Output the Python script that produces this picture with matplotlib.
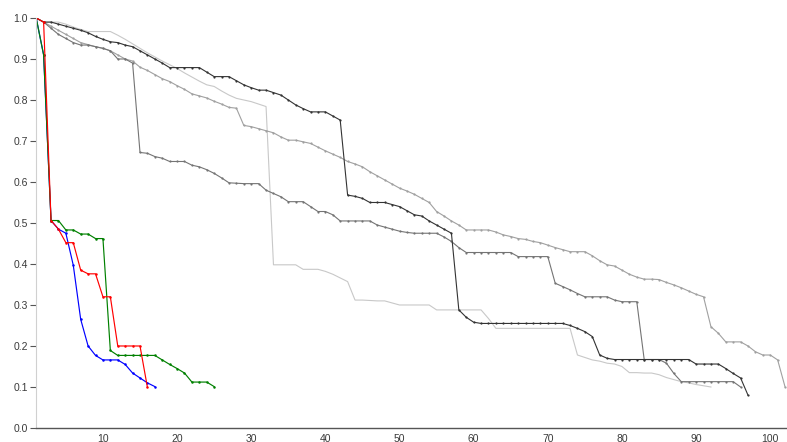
import numpy as np
import matplotlib
matplotlib.use('Agg')
import matplotlib.pyplot as plt

# short runs (coloured)
red_y = [1.0, 0.99, 0.506, 0.485, 0.452, 0.452, 0.385, 0.376, 0.376, 0.32, 0.32,
         0.20, 0.20, 0.20, 0.20, 0.099]
green_y = [1.0, 0.91, 0.506, 0.506, 0.483, 0.483, 0.473, 0.473, 0.462, 0.462, 0.189,
           0.177, 0.177, 0.177, 0.177, 0.177, 0.177, 0.166, 0.155, 0.145, 0.134,
           0.112, 0.112, 0.112, 0.101]
blue_y = [1.0, 0.91, 0.506, 0.485, 0.475, 0.397, 0.265, 0.20, 0.177, 0.166, 0.166,
          0.166, 0.155, 0.134, 0.122, 0.11, 0.101]

# long runs (greys)
dark_y = [1.0, 0.99, 0.99, 0.985, 0.98, 0.975, 0.97, 0.964, 0.955, 0.948,
          0.942, 0.94, 0.934, 0.93, 0.92, 0.91, 0.90, 0.89, 0.879, 0.879,
          0.879, 0.879, 0.879, 0.868, 0.857, 0.857, 0.857, 0.847, 0.837, 0.83,
          0.824, 0.824, 0.818, 0.812, 0.80, 0.788, 0.779, 0.771, 0.771, 0.771,
          0.761, 0.751, 0.568, 0.565, 0.56, 0.55, 0.55, 0.55, 0.545, 0.54,
          0.53, 0.52, 0.517, 0.505, 0.495, 0.485, 0.475, 0.288, 0.27, 0.258,
          0.255, 0.255, 0.255, 0.255, 0.255, 0.255, 0.255, 0.255, 0.255, 0.255,
          0.255, 0.255, 0.25, 0.243, 0.235, 0.223, 0.178, 0.17, 0.167, 0.167,
          0.167, 0.167, 0.167, 0.167, 0.167, 0.167, 0.167, 0.167, 0.167, 0.156,
          0.156, 0.156, 0.156, 0.145, 0.133, 0.122, 0.08]
mid_y = [1.0, 0.99, 0.975, 0.96, 0.95, 0.94, 0.934, 0.934, 0.93, 0.926,
         0.92, 0.90, 0.90, 0.89, 0.672, 0.67, 0.662, 0.658, 0.65, 0.65,
         0.65, 0.641, 0.637, 0.63, 0.621, 0.61, 0.598, 0.597, 0.596, 0.596,
         0.596, 0.58, 0.572, 0.564, 0.552, 0.552, 0.552, 0.54, 0.528, 0.528,
         0.52, 0.505, 0.505, 0.505, 0.505, 0.505, 0.495, 0.49, 0.485, 0.48,
         0.477, 0.475, 0.475, 0.475, 0.475, 0.466, 0.455, 0.44, 0.428, 0.428,
         0.428, 0.428, 0.428, 0.428, 0.428, 0.418, 0.418, 0.418, 0.418, 0.418,
         0.353, 0.345, 0.337, 0.328, 0.32, 0.32, 0.32, 0.32, 0.312, 0.308,
         0.308, 0.308, 0.167, 0.167, 0.167, 0.158, 0.133, 0.113, 0.113, 0.113,
         0.113, 0.113, 0.113, 0.113, 0.113, 0.10]
light_y = [1.0, 0.99, 0.98, 0.97, 0.96, 0.95, 0.94, 0.935, 0.93, 0.926,
           0.92, 0.91, 0.90, 0.895, 0.88, 0.872, 0.862, 0.852, 0.845, 0.835,
           0.826, 0.815, 0.81, 0.805, 0.797, 0.79, 0.782, 0.78, 0.738, 0.735,
           0.73, 0.725, 0.72, 0.71, 0.702, 0.702, 0.698, 0.694, 0.685, 0.676,
           0.668, 0.66, 0.65, 0.644, 0.637, 0.625, 0.615, 0.605, 0.595, 0.585,
           0.578, 0.57, 0.56, 0.55, 0.528, 0.517, 0.505, 0.495, 0.483, 0.483,
           0.483, 0.483, 0.478, 0.471, 0.467, 0.462, 0.46, 0.455, 0.452, 0.446,
           0.44, 0.435, 0.43, 0.43, 0.43, 0.42, 0.408, 0.398, 0.395, 0.385,
           0.375, 0.368, 0.363, 0.363, 0.362, 0.355, 0.349, 0.342, 0.334, 0.326,
           0.32, 0.247, 0.231, 0.21, 0.21, 0.21, 0.20, 0.186, 0.178, 0.178,
           0.166, 0.10]
pale_y = [1.0, 0.99, 0.99, 0.99, 0.985, 0.978, 0.972, 0.967, 0.967, 0.967,
          0.967, 0.958, 0.948, 0.937, 0.926, 0.915, 0.905, 0.895, 0.886, 0.877,
          0.866, 0.856, 0.846, 0.837, 0.833, 0.822, 0.812, 0.804, 0.80, 0.796,
          0.79, 0.784, 0.398, 0.398, 0.398, 0.398, 0.387, 0.387, 0.387, 0.382,
          0.375, 0.366, 0.357, 0.312, 0.312, 0.311, 0.31, 0.31, 0.305, 0.30,
          0.30, 0.30, 0.30, 0.30, 0.288, 0.288, 0.288, 0.288, 0.288, 0.288,
          0.288, 0.267, 0.243, 0.243, 0.243, 0.243, 0.243, 0.243, 0.243, 0.243,
          0.243, 0.243, 0.243, 0.178, 0.172, 0.166, 0.163, 0.158, 0.156, 0.15,
          0.135, 0.135, 0.134, 0.134, 0.13, 0.123, 0.118, 0.113, 0.11, 0.106,
          0.103, 0.10]

yticks = [0.0, 0.1, 0.2, 0.3, 0.4, 0.5, 0.6, 0.7, 0.8, 0.9, 1.0]
xticks = [10, 20, 30, 40, 50, 60, 70, 80, 90, 100]


def steps(vals):
    return np.arange(1, len(vals) + 1)


def main():
    fig = plt.figure(figsize=(7.87, 4.42), dpi=100)
    ax = fig.add_axes([0.046, 0.0317, 0.9525, 0.9276])

    greys = [(pale_y, '#c8c8c8', 0), (light_y, '#a0a0a0', 1.6),
             (mid_y, '#747474', 1.6), (dark_y, '#333333', 1.6)]
    for vals, col, ms in greys:
        ax.plot(steps(vals), vals, color=col, lw=0.8, marker='o', ms=ms, mew=0)

    for vals, col in [(blue_y, '#0000ff'), (green_y, '#008000'), (red_y, '#ff0000')]:
        ax.plot(steps(vals), vals, color=col, lw=0.85, marker='o', ms=1.8, mew=0)

    ax.set_xlim(1, 102.1)
    ax.set_ylim(0, 1.0)
    ax.set_xticks(xticks)
    ax.set_yticks(yticks)
    ax.set_yticklabels(['%.1f' % v for v in yticks])

    for side in ['top', 'right']:
        ax.spines[side].set_visible(False)
    ax.spines['left'].set_color('#d0d0d0')
    ax.spines['bottom'].set_color('#555555')
    ax.spines['left'].set_linewidth(0.8)
    ax.spines['bottom'].set_linewidth(1.0)
    ax.tick_params(axis='y', length=4, width=0.8, color='#555555', pad=2,
                   labelsize=7.5, labelcolor='#3a3a3a')
    ax.tick_params(axis='x', length=0, pad=4, labelsize=7.5, labelcolor='#3a3a3a')
    for lab in ax.get_xticklabels() + ax.get_yticklabels():
        lab.set_family('Liberation Sans')

    fig.savefig('out.png', dpi=100)
    plt.close(fig)


if __name__ == "__main__":
    main()
